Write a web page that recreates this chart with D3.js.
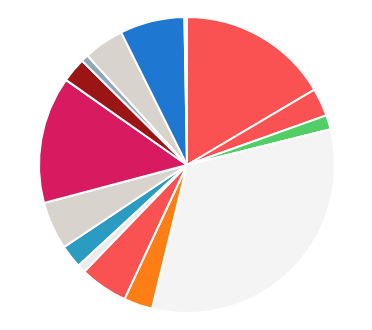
<!DOCTYPE html>
<html>
<head>
<meta charset="utf-8">
<script src="https://cdn.jsdelivr.net/npm/d3@7"></script>
<style>
  body { margin: 0; background: #fff; }
</style>
</head>
<body>
<div class="chart"></div>
<script>
// slice values (in degrees of the full circle)
const categories = ['s1', 's2', 's3', 's4', 's5', 's6', 's7', 's8', 's9', 's10', 's11', 's12', 's13', 's14', 's15'];
const values = [59.4, 11.0, 5.6, 117.7, 11.3, 18.9, 3.3, 9.1, 18.8, 50.0, 9.7, 2.9, 15.9, 25.4, 1.0];
const colors = ['#fa5252', '#fa5252', '#51cf66', '#f4f4f4', '#fd7e14', '#fa5252', '#ebebeb',
  '#2a9bc1', '#d8d3cd', '#d81b60', '#9b1515', '#8fa5b9', '#d8d3cd', '#1e78d2', '#eef2f5'];

const width = 372;
const height = 330;
const radius = 148;

const data = categories.map((c, i) => ({ name: c, value: values[i], color: colors[i] }));

const svg = d3.select('.chart')
  .append('svg')
  .attr('width', width)
  .attr('height', height)
  .append('g')
  .attr('transform', `translate(187,165)`);

const pie = d3.pie()
  .sort(null)
  .value((d) => d.value);

const arc = d3.arc()
  .innerRadius(0)
  .outerRadius(radius);

svg.selectAll('path')
  .data(pie(data))
  .enter()
  .append('path')
  .attr('d', arc)
  .attr('fill', (d) => d.data.color)
  .attr('stroke', '#fff')
  .attr('stroke-width', 2);
</script>
</body>
</html>
